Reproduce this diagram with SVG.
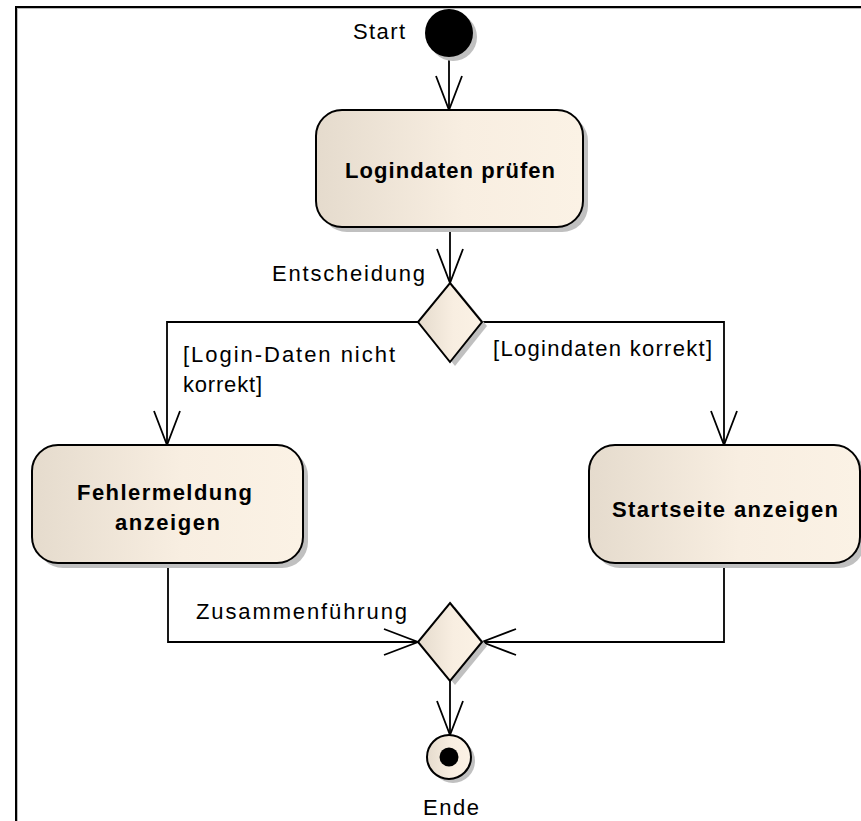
<svg xmlns="http://www.w3.org/2000/svg" width="861" height="821" viewBox="0 0 861 821">
<style>
.lbl{font-family:"Liberation Sans",Arial,sans-serif;font-size:22px;fill:#000}
.act{font-family:"Liberation Sans",Arial,sans-serif;font-size:22px;font-weight:bold;fill:#000}
.edge{fill:none;stroke:#000;stroke-width:1.8;marker-end:url(#arr)}
.shape{stroke:#000;stroke-width:2;fill:url(#g)}
.shadow{fill:#c0c0c0;stroke:none}
</style>
<defs>
<linearGradient id="g" x1="0" y1="0" x2="1" y2="0">
<stop offset="0" stop-color="#e5dbcd"/>
<stop offset="0.55" stop-color="#f8eee1"/>
<stop offset="1" stop-color="#fbf2e5"/>
</linearGradient>
<marker id="arr" markerUnits="userSpaceOnUse" markerWidth="40" markerHeight="30" refX="35" refY="14" orient="auto" viewBox="0 0 40 30">
<path d="M1,1 L35,14 L1,27" fill="none" stroke="#000" stroke-width="1.8"/>
</marker>
</defs>
<rect width="861" height="821" fill="#fff"/>
<rect x="17.5" y="8.5" width="900" height="900" fill="none" stroke="#bbb" stroke-width="1"/>
<rect x="16" y="7" width="900" height="900" fill="none" stroke="#000" stroke-width="2"/>

<g id="connectors">
<path class="edge" d="M449,57 V110"/>
<path class="edge" d="M450,227 V283"/>
<path class="edge" d="M418,322 H167 V445"/>
<path class="edge" d="M482,322 H724 V445"/>
<path class="edge" d="M168,563 V642 H418"/>
<path class="edge" d="M724,563 V642 H482"/>
<path class="edge" d="M450,681 V735"/>
</g>

<g id="start">
<circle class="shadow" cx="453" cy="37" r="24"/>
<circle cx="449" cy="33" r="24" fill="#000"/>
<text class="lbl" x="353" y="39" textLength="52" lengthAdjust="spacing">Start</text>
</g>

<g id="login">
<rect class="shadow" x="321" y="115" width="267" height="117" rx="26"/>
<rect class="shape" x="316" y="110" width="267" height="117" rx="26"/>
<text class="act" x="345" y="178" textLength="210" lengthAdjust="spacing">Logindaten prüfen</text>
</g>

<g id="decision">
<polygon class="shadow" points="455,287 487,326 455,366 423,326"/>
<polygon class="shape" points="450,283 482,322 450,362 418,322"/>
<text class="lbl" x="272" y="281" textLength="153" lengthAdjust="spacing">Entscheidung</text>
</g>

<g id="guards">
<text class="lbl" x="183" y="362" textLength="212" lengthAdjust="spacing">[Login-Daten nicht</text>
<text class="lbl" x="183" y="392" textLength="79" lengthAdjust="spacing">korrekt]</text>
<text class="lbl" x="493" y="356" textLength="219" lengthAdjust="spacing">[Logindaten korrekt]</text>
</g>

<g id="fehler">
<rect class="shadow" x="37" y="450" width="271" height="118" rx="26"/>
<rect class="shape" x="32" y="445" width="271" height="118" rx="26"/>
<text class="act" x="77" y="500" textLength="175" lengthAdjust="spacing">Fehlermeldung</text>
<text class="act" x="115" y="530" textLength="105" lengthAdjust="spacing">anzeigen</text>
</g>

<g id="startseite">
<rect class="shadow" x="594" y="450" width="271" height="118" rx="26"/>
<rect class="shape" x="589" y="445" width="271" height="118" rx="26"/>
<text class="act" x="612" y="517" textLength="226" lengthAdjust="spacing">Startseite anzeigen</text>
</g>

<g id="merge">
<polygon class="shadow" points="455,607 487,646 455,685 423,646"/>
<polygon class="shape" points="450,603 482,642 450,681 418,642"/>
<text class="lbl" x="196" y="619" textLength="211" lengthAdjust="spacing">Zusammenführung</text>
</g>

<g id="end">
<circle class="shadow" cx="453" cy="761" r="22"/>
<circle class="shape" cx="449" cy="757" r="22"/>
<circle cx="449" cy="757" r="9.5" fill="#000"/>
<text class="lbl" x="423" y="815" textLength="56" lengthAdjust="spacing">Ende</text>
</g>
</svg>
